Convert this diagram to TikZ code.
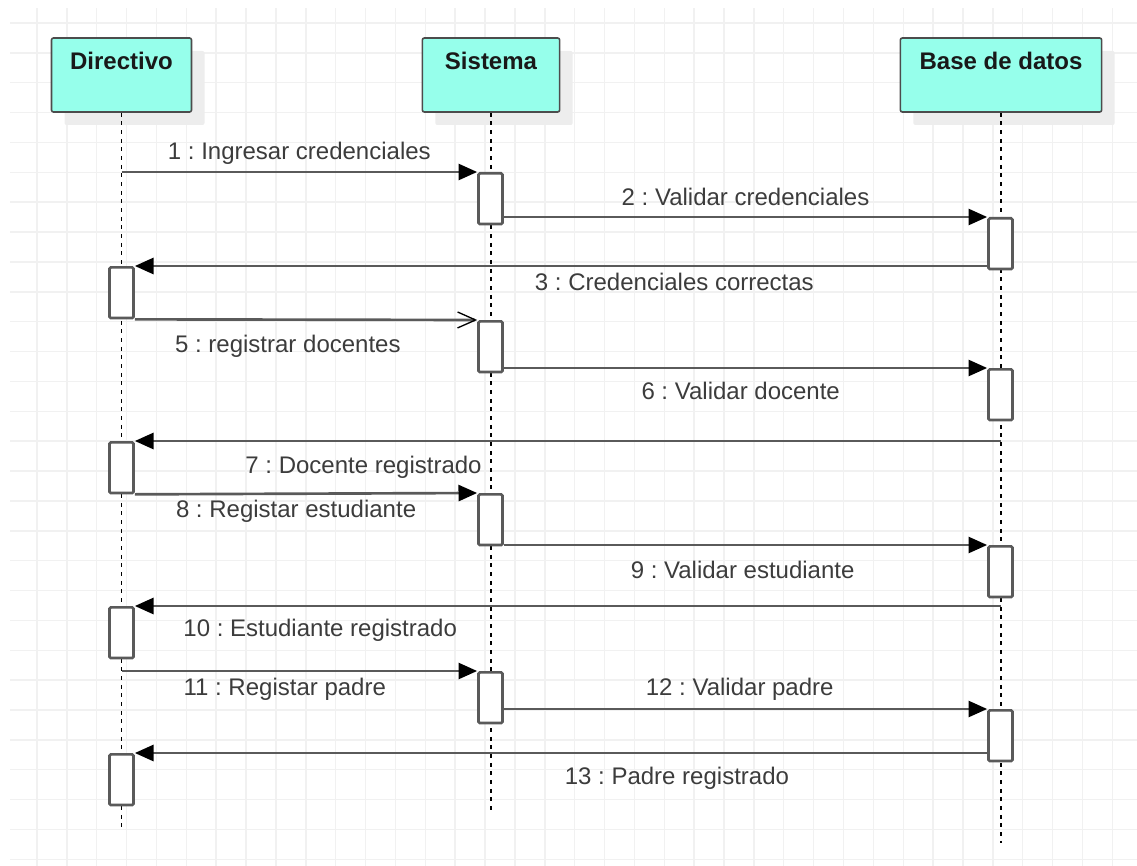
\documentclass[tikz,border=0pt]{standalone}
\usepackage{fontspec}
\setmainfont{Liberation Sans}
\usetikzlibrary{arrows.meta,positioning,shadows}

\definecolor{headfill}{RGB}{150,255,235}
\definecolor{linegray}{RGB}{90,90,90}
\definecolor{gridgray}{RGB}{241,241,241}
\definecolor{textgray}{RGB}{60,60,60}
\newcommand{\seqfont}{\fontsize{18pt}{21.6pt}\selectfont\frenchspacing}

\tikzset{
	gridln/.style={draw=gridgray, line width=1.1pt},
	lifehead/.style={draw=black!70, line width=1.2pt, fill=headfill, rounded corners=1.5pt,
		text height=24pt, text depth=31.5pt, inner ysep=0pt, font=\seqfont\bfseries, text=black!90,
		drop shadow={shadow xshift=9.75pt, shadow yshift=-9.75pt, fill=black!7, opacity=1}},
	lifeline/.style={draw=black, line width=1.1pt, dash pattern=on 3pt off 3.5pt},
	actbar/.style={draw=linegray, line width=2pt, fill=white, rounded corners=1pt,
		minimum width=18pt, minimum height=38pt, inner sep=0pt, anchor=north},
	msg/.style={draw=linegray, line width=2pt, -{Triangle[length=14pt,width=12pt,black]}},
	msgopen/.style={draw=linegray, line width=2pt, -{Straight Barb[length=13.5pt,width=12pt,black,line width=1pt]}},
	msglbl/.style={font=\seqfont, text=textgray, inner sep=2pt}
}

\begin{document}
\begin{tikzpicture}[x=0.75pt, y=-0.75pt]
	\useasboundingbox (0,0) rectangle (1137,866);
	% background grid
	\foreach \k in {0,...,36}
		\draw[gridln] ({37+29.87*\k},8) -- ({37+29.87*\k},866);
	\foreach \k in {0,...,28}
		\draw[gridln] (10,{23+29.87*\k}) -- (1137,{23+29.87*\k});

	% lifelines
	\node[lifehead, minimum width=105pt] (directivo) at (121.5,75) {Directivo};
	\node[lifehead, minimum width=103pt] (sistema) at (491,75) {Sistema};
	\node[lifehead, minimum width=151pt] (basedatos) at (1001,75) {Base de datos};
	\coordinate (dEnd) at (121.5,832);
	\coordinate (sEnd) at (491,811);
	\coordinate (bEnd) at (1001,843);
	\draw[lifeline] (directivo.south) -- (dEnd);
	\draw[lifeline] (sistema.south) -- (sEnd);
	\draw[lifeline] (basedatos.south) -- (bEnd);

	% activations
	\node[actbar] (dAct1) at (121.5,266) {};
	\node[actbar] (dAct2) at (121.5,441) {};
	\node[actbar] (dAct3) at (121.5,606) {};
	\node[actbar] (dAct4) at (121.5,753) {};
	\node[actbar] (sAct1) at (490.5,172) {};
	\node[actbar] (sAct2) at (490.5,320) {};
	\node[actbar] (sAct3) at (490.5,493) {};
	\node[actbar] (sAct4) at (490.5,671) {};
	\node[actbar] (bAct1) at (1000.5,217) {};
	\node[actbar] (bAct2) at (1000.5,368) {};
	\node[actbar] (bAct3) at (1000.5,545) {};
	\node[actbar] (bAct4) at (1000.5,709) {};
	\coordinate (dMsg1) at (121.5,172);
	\coordinate (dMsg11) at (121.5,671);
	\coordinate (bMsg7) at (1001,441);
	\coordinate (bMsg10) at (1001,606);

	% messages
	\path
	 (dMsg1) edge[msg] node[msglbl, pos=.5, yshift=14pt] {1 : Ingresar credenciales} (sAct1.north west)
	 (sAct1.east |- bAct1.north) edge[msg] node[msglbl, pos=.5, yshift=15pt] {2 : Validar credenciales} (bAct1.north west)
	 (bAct1.west |- dAct1.north) edge[msg] node[msglbl, pos=.367, yshift=-12pt] {3 : Credenciales correctas} (dAct1.north east)
	 (dAct1.south east) edge[msgopen] node[msglbl, pos=.447, yshift=-20pt] {5 : registrar docentes} (sAct2.north west)
	 (sAct2.east |- bAct2.north) edge[msg] node[msglbl, pos=.49, yshift=-17pt] {6 : Validar docente} (bAct2.north west)
	 (bMsg7) edge[msg] node[msglbl, pos=.736, yshift=-19.5pt] {7 : Docente registrado} (dAct2.north east)
	 (dAct2.south east) edge[msg] node[msglbl, pos=.471, yshift=-13.5pt] {8 : Registar estudiante} (sAct3.north west)
	 (sAct3.east |- bAct3.north) edge[msg] node[msglbl, pos=.494, yshift=-18.75pt] {9 : Validar estudiante} (bAct3.north west)
	 (bMsg10) edge[msg] node[msglbl, pos=.786, yshift=-18pt] {10 : Estudiante registrado} (dAct3.north east)
	 (dMsg11) edge[msg] node[msglbl, pos=.459, yshift=-13.5pt] {11 : Registar padre} (sAct4.north west)
	 (sAct4.east |- bAct4.north) edge[msg] node[msglbl, pos=.488, yshift=15pt] {12 : Validar padre} (bAct4.north west)
	 (bAct4.west |- dAct4.north) edge[msg] node[msglbl, pos=.364, yshift=-18.75pt] {13 : Padre registrado} (dAct4.north east);
\end{tikzpicture}
\end{document}
